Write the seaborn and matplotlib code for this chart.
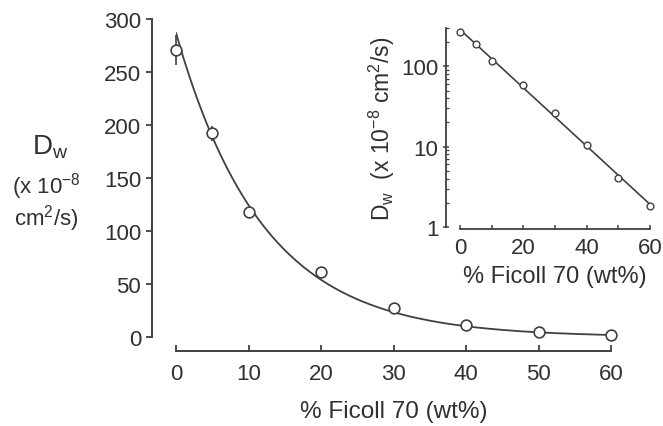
import numpy as np
import matplotlib
matplotlib.use('Agg')
import matplotlib.pyplot as plt
import seaborn as sns

# values
ficoll = [0, 5, 10, 20, 30, 40, 50, 60]
dw_main = [271, 192, 118, 61, 27, 11, 4.7, 2.0]
dw_err = [14, 7, 5, 0, 0, 0, 0, 0]
dw_inset = [270, 190, 115, 59, 26.5, 10.6, 4.1, 1.83]

sns.set_style('ticks')
plt.rcParams['font.family'] = ['Liberation Sans', 'DejaVu Sans']
plt.rcParams['mathtext.fontset'] = 'custom'
plt.rcParams['mathtext.rm'] = 'Liberation Sans'
plt.rcParams['mathtext.it'] = 'Liberation Sans'

ink = '#404040'
txt = '#303030'

# exponential fit through the points (straight line on log scale)
k, b = np.polyfit(ficoll, np.log(dw_inset), 1)
xs = np.linspace(0, 60, 200)
fit = np.exp(b + k * xs)

fig = plt.figure(figsize=(6.63, 4.27), dpi=100)

# main panel
ax = fig.add_axes([176 / 663, 1 - 338 / 427, 435 / 663, 318 / 427])
sns.lineplot(x=xs, y=fit, ax=ax, color=ink, lw=1.3)
ax.errorbar(ficoll, dw_main, yerr=dw_err, fmt='none', ecolor=ink, elinewidth=1.2,
            capsize=0, clip_on=False, zorder=3)
sns.scatterplot(x=ficoll, y=dw_main, ax=ax, s=60, facecolor='white', edgecolor=ink,
                linewidth=1.2, zorder=4, clip_on=False)
ax.set_xlim(0, 60)
ax.set_ylim(0, 300)
ax.set_xticks(range(0, 61, 10))
ax.set_yticks(range(0, 301, 50))
ax.spines['left'].set_position(('outward', 17))
ax.spines['bottom'].set_position(('outward', 10))
ax.spines['left'].set_bounds(0, 300)
ax.spines['bottom'].set_bounds(0, 60)
for s in ['top', 'right']:
    ax.spines[s].set_visible(False)
for s in ['left', 'bottom']:
    ax.spines[s].set_color(ink)
    ax.spines[s].set_linewidth(1.4)
ax.tick_params(axis='y', direction='out', length=4, width=1.3, pad=4,
               labelsize=16, colors=ink, labelcolor=txt)
ax.tick_params(axis='x', direction='in', length=4, width=1.3, pad=9,
               labelsize=16, colors=ink, labelcolor=txt)
ax.set_xlabel('% Ficoll 70 (wt%)', fontsize=17.5, color=txt, labelpad=11)

fig.text(50 / 663, 1 - 147 / 427, r'D$_\mathregular{w}$', fontsize=20, color=txt,
         ha='center', va='center')
fig.text(46 / 663, 1 - 187 / 427, r'(x 10$^{-8}$', fontsize=16, color=txt,
         ha='center', va='center')
fig.text(46 / 663, 1 - 219 / 427, r'cm$^{2}$/s)', fontsize=16, color=txt,
         ha='center', va='center')

# inset, log scale
ins = fig.add_axes([460 / 663, 1 - 228 / 427, 190 / 663, 199 / 427])
sns.lineplot(x=xs, y=fit, ax=ins, color=ink, lw=1.2)
sns.scatterplot(x=ficoll, y=dw_inset, ax=ins, s=24, facecolor='white', edgecolor=ink,
                linewidth=1.0, zorder=4, clip_on=False)
ins.set_yscale('log')
ins.set_xlim(0, 60)
ins.set_ylim(1, 300)
ins.set_xticks([0, 20, 40, 60])
ins.set_xticks([10, 30, 50], minor=True)
ins.set_yticks([1, 10, 100])
ins.set_yticklabels(['1', '10', '100'])
ins.spines['left'].set_position(('outward', 10))
ins.spines['bottom'].set_position(('outward', 1.5))
ins.spines['bottom'].set_bounds(0, 60)
for s in ['top', 'right']:
    ins.spines[s].set_visible(False)
for s in ['left', 'bottom']:
    ins.spines[s].set_color(ink)
    ins.spines[s].set_linewidth(1.3)
ins.tick_params(axis='x', which='both', direction='in', length=3, width=1.1, pad=6,
                labelsize=16, colors=ink, labelcolor=txt)
ins.tick_params(axis='y', which='major', direction='inout', length=5, width=1.1, pad=3,
                labelsize=16, colors=ink, labelcolor=txt)
ins.tick_params(axis='y', which='minor', direction='in', length=2, width=0.9, colors=ink)
ins.set_xlabel('% Ficoll 70 (wt%)', fontsize=17, color=txt, labelpad=5)
ins.set_ylabel(r'D$_\mathregular{w}$  (x 10$^{-8}$ cm$^{2}$/s)', fontsize=16.5, color=txt,
               labelpad=3)

fig.savefig('out.png', dpi=100, facecolor='white')
